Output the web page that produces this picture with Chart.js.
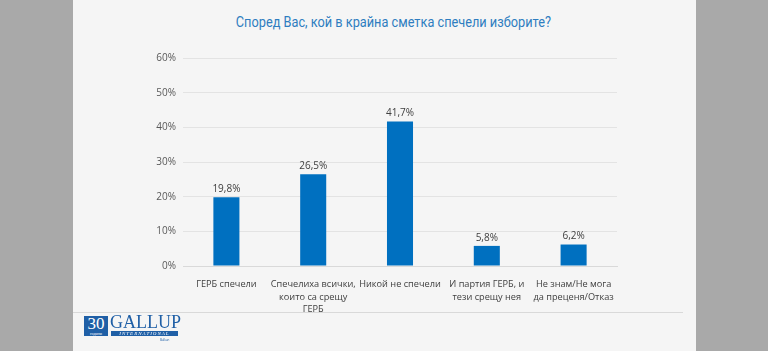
<!DOCTYPE html>
<html>
<head>
<meta charset="utf-8">
<script src="https://cdn.jsdelivr.net/npm/chart.js@4"></script>
<style>
  body { margin: 0; width: 768px; height: 351px; background: #a9a9a9; overflow: hidden; font-family: "Open Sans", "Noto Sans", sans-serif; }
  #panel { position: absolute; left: 73px; top: 0; width: 623px; height: 351px; background: #f5f5f5; }
  #title { position: absolute; left: 89px; width: 608px; top: 13px; text-align: center; font-family: "Roboto", sans-serif; font-size: 15px; color: #2e7dc0; }
  #title span { display: inline-block; transform: scaleX(0.85); }
  #box { position: absolute; left: 140px; top: 45px; width: 490px; height: 270px; }
  #sep { position: absolute; left: 73px; top: 312px; width: 610px; height: 1px; background: #d9d9d9; }
  #logo30 { position: absolute; left: 84px; top: 316px; width: 24px; height: 20px; background: #1f5fa6; color: #fff; font-family: "Liberation Serif", serif; font-size: 17px; line-height: 16px; text-align: center; }
  #logo30 span { display: block; font-size: 4px; line-height: 4px; }
  #gallup { position: absolute; left: 110px; top: 313px; font-family: "Liberation Serif", serif; font-size: 18px; color: #1f5fa6; line-height: 18px; }
  #intl { position: absolute; left: 111px; top: 331px; width: 67px; height: 5px; background: #1f5fa6; color: #fff; font-family: "Liberation Serif", serif; font-size: 5px; line-height: 5px; text-align: center; font-style: italic; letter-spacing: 1px; }
  #bg { position: absolute; left: 160px; top: 338px; font-size: 3px; color: #1f5fa6; }
</style>
</head>
<body>
<div id="panel"></div>
<div id="title"><span>Според Вас, кой в крайна сметка спечели изборите?</span></div>
<div id="box"><canvas id="chart" width="490" height="270"></canvas></div>
<div id="sep"></div>
<div id="logo30">30<span>години</span></div>
<div id="gallup">GALLUP</div>
<div id="intl">INTERNATIONAL</div>
<div id="bg">Balkan</div>
<script>
var categories = [
    ["ГЕРБ спечели"],
    ["Спечелиха всички,", "които са срещу", "ГЕРБ"],
    ["Никой не спечели"],
    ["И партия ГЕРБ, и", "тези срещу нея"],
    ["Не знам/Не мога", "да преценя/Отказ"]
];
var values = [19.8, 26.5, 41.7, 5.8, 6.2];
var valueLabels = ["19,8%", "26,5%", "41,7%", "5,8%", "6,2%"];
var yTicks = [0, 10, 20, 30, 40, 50, 60];

var barLabels = {
    id: 'barLabels',
    afterDatasetsDraw: function(chart) {
        var ctx = chart.ctx;
        var meta = chart.getDatasetMeta(0);
        ctx.save();
        ctx.font = '10px "Open Sans", sans-serif';
        ctx.fillStyle = '#404040';
        ctx.textAlign = 'center';
        ctx.textBaseline = 'bottom';
        meta.data.forEach(function(bar, i) {
            ctx.fillText(valueLabels[i], bar.x, bar.y - 3);
        });
        ctx.restore();
    }
};

var ctx = document.getElementById('chart').getContext('2d');
var chart = new Chart(ctx, {
    type: 'bar',
    data: {
        labels: categories,
        datasets: [{
            data: values,
            backgroundColor: '#0070c0',
            categoryPercentage: 1,
            barPercentage: 0.3
        }]
    },
    options: {
        responsive: false,
        animation: false,
        devicePixelRatio: 1,
        layout: { padding: { top: 13, right: 13, left: 0, bottom: 0 } },
        plugins: { legend: { display: false }, tooltip: { enabled: false } },
        scales: {
            x: {
                grid: { display: false },
                border: { color: '#d9d9d9' },
                ticks: {
                    color: '#404040',
                    font: { size: 9.2, family: '"Open Sans", sans-serif', lineHeight: 1.38 },
                    maxRotation: 0,
                    autoSkip: false,
                    padding: 4
                },
                afterFit: function(scale) { scale.height = 49; }
            },
            y: {
                min: 0,
                max: 60,
                afterBuildTicks: function(scale) {
                    scale.ticks = yTicks.map(function(v) { return { value: v }; });
                },
                grid: { color: '#e3e3e3', drawTicks: false },
                border: { display: false },
                ticks: {
                    color: '#595959',
                    font: { size: 10, family: '"Open Sans", sans-serif' },
                    padding: 7,
                    callback: function(v) { return v + '%'; }
                },
                afterFit: function(scale) { scale.width = 43; }
            }
        }
    },
    plugins: [barLabels]
});
</script>
</body>
</html>
